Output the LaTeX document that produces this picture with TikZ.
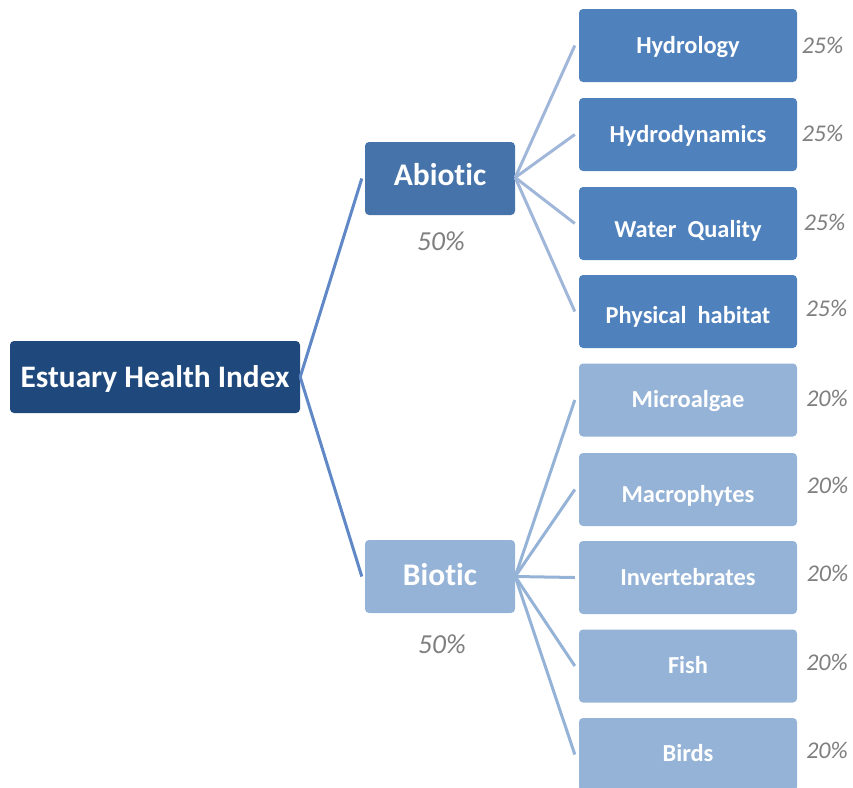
\documentclass[tikz,border=0pt]{standalone}
\usepackage{fontspec}
\setmainfont{Carlito}[Ligatures=NoCommon]
\definecolor{rootfill}{HTML}{1F497D}
\definecolor{abfill}{HTML}{4673AA}
\definecolor{ableaf}{HTML}{4F81BD}
\definecolor{biofill}{HTML}{95B3D7}
\definecolor{rootline}{HTML}{6088C6}
\definecolor{abline}{HTML}{A0B7DA}
\definecolor{bioline}{HTML}{95B3D7}
\definecolor{pctgray}{HTML}{7F7F7F}
\begin{document}
\begin{tikzpicture}[x=1pt,y=-1pt,
  box/.style={rectangle, rounded corners=4pt, inner sep=0pt, text=white,
    align=center, text depth=0pt},
  rootbox/.style={box, fill=rootfill, minimum width=290pt, minimum height=72pt,
    font=\fontsize{31.3}{37}\selectfont\bfseries, text height=20.1pt},
  midbox/.style={box, minimum width=150pt, minimum height=73pt,
    font=\fontsize{31.5}{37}\selectfont\bfseries, text height=20.3pt},
  leafbox/.style={box, minimum width=218pt, minimum height=73pt,
    font=\fontsize{24.4}{29}\selectfont\bfseries, text height=15.7pt},
  pct/.style={inner sep=0pt, text=pctgray, text depth=0pt,
    font=\fontsize{24}{29}\selectfont\itshape, text height=15.2pt},
  pctmid/.style={pct, font=\fontsize{27.5}{33}\selectfont\itshape, text height=17.4pt},
  conn/.style={line width=3pt}
]
\useasboundingbox (0,0) rectangle (853,787);

% root
\node[rootbox] (root) at (155,377) {Estuary Health Index};

% second level
\node[midbox, fill=abfill] (abiotic) at (440,178.5) {\raisebox{3pt}{Abiotic}};
\node[midbox, fill=biofill] (biotic) at (440,576.5) {\raisebox{1.5pt}{Biotic}};
\node[pctmid] (p-ab) at (441,241.3) {50\%};
\node[pctmid] (p-bio) at (442,645) {50\%};

% abiotic components
\node[leafbox, fill=ableaf] (hyd) at (688,45.5) {Hydrology};
\node[leafbox, fill=ableaf] (hdy) at (688,134.5) {Hydrodynamics};
\node[leafbox, fill=ableaf] (wq) at (688,223.5) {\raisebox{-6pt}{Water\ \ Quality}};
\node[leafbox, fill=ableaf] (ph) at (688,311.5) {\raisebox{-4.5pt}{Physical\ \ habitat}};

% biotic components
\node[leafbox, fill=biofill] (mic) at (688,400) {Microalgae};
\node[leafbox, fill=biofill] (mac) at (688,489.5) {\raisebox{-5.5pt}{Macrophytes}};
\node[leafbox, fill=biofill] (inv) at (688,577.5) {Invertebrates};
\node[leafbox, fill=biofill] (fish) at (688,666) {Fish};
\node[leafbox, fill=biofill] (birds) at (688,754.5) {\raisebox{1pt}{Birds}};

% weights
\node[pct] (p-hyd) at (822.5,45.5) {25\%};
\node[pct] (p-hdy) at (822.5,133.5) {25\%};
\node[pct] (p-wq) at (824.5,222.5) {25\%};
\node[pct] (p-ph) at (826.5,309) {25\%};
\node[pct] (p-mic) at (827,399) {20\%};
\node[pct] (p-mac) at (827.5,485.5) {20\%};
\node[pct] (p-inv) at (827.5,574) {20\%};
\node[pct] (p-fish) at (827,662.5) {20\%};
\node[pct] (p-birds) at (827,750.5) {20\%};

% connectors
\draw[conn, rootline] (root.east) -- ([xshift=-3pt]abiotic.west);
\draw[conn, rootline] (root.east) -- ([xshift=-3pt]biotic.west);
\foreach \n in {hyd,hdy,wq,ph}
  \draw[conn, abline] ([yshift=1pt]abiotic.east) -- ([xshift=-4pt]\n.west);
\foreach \n in {mic,mac,inv,fish,birds}
  \draw[conn, bioline] (biotic.east) -- ([xshift=-4pt]\n.west);
\end{tikzpicture}
\end{document}
